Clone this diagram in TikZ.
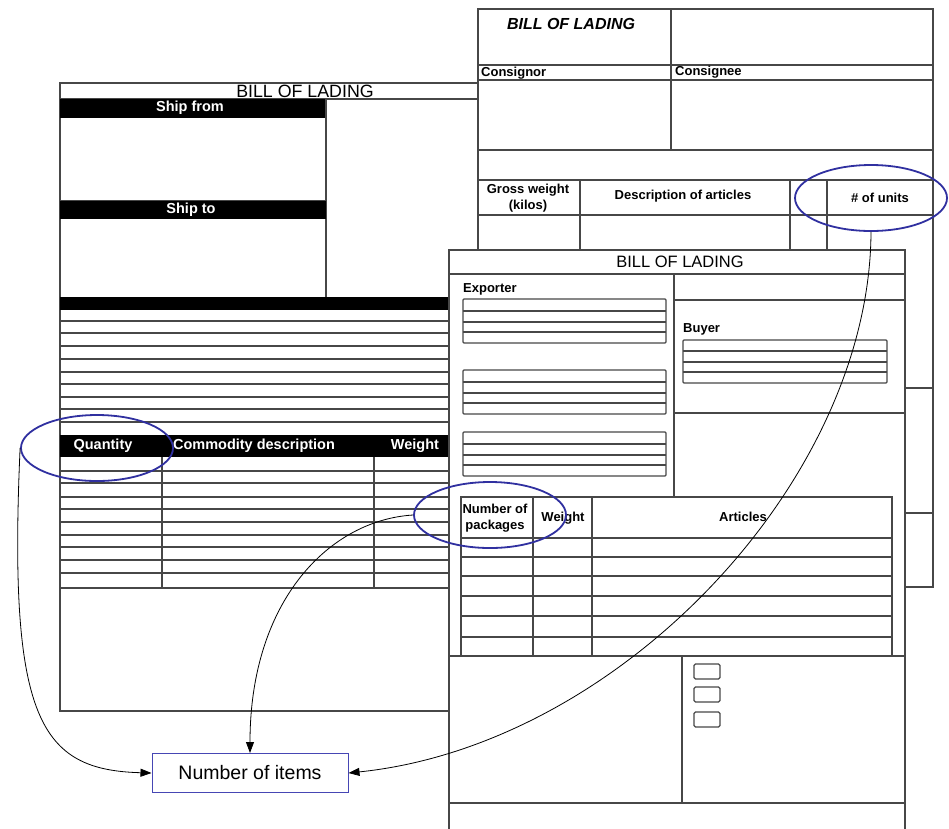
\documentclass[tikz,border=0pt]{standalone}
\usepackage{fontspec}
\setmainfont{Liberation Sans}
\usetikzlibrary{arrows.meta, positioning, shapes.geometric}
\definecolor{markblue}{RGB}{48,48,160}
\definecolor{boxblue}{RGB}{70,70,180}
\begin{document}
\begin{tikzpicture}[x=1pt, y=-1pt,
  formline/.style={draw=black!72, line width=1.15pt},
  formsheet/.style={formline, fill=white},
  barlabel/.style={text=white, font=\bfseries\fontsize{14.5}{16}\selectfont, inner sep=0pt},
  fieldlabel/.style={font=\bfseries\fontsize{13}{15.5}\selectfont, inner sep=0pt, align=center},
  formtitle/.style={font=\fontsize{16.5}{18}\selectfont, inner sep=0pt},
  callout/.style={ellipse, draw=markblue, line width=1.8pt, minimum width=152pt, minimum height=66pt},
  itembox/.style={draw=boxblue, line width=1pt, fill=white, minimum width=196pt, minimum height=39pt, font=\fontsize{19.5}{21}\selectfont},
  pointer/.style={-{Triangle[length=11pt, width=8pt]}, line width=0.8pt}]
\useasboundingbox (0,0) rectangle (949,828);

% back sheet
\draw[formsheet] (478,9) rectangle (933,587);
\foreach \y in {65,80,150,180,215,388,513}
  \draw[formline] (478,\y) -- (933,\y);
\draw[formline] (671,9) -- (671,150);
\foreach \x in {580,790,827}
  \draw[formline] (\x,180) -- (\x,260);
\node[font=\bfseries\itshape\fontsize{16}{18}\selectfont, inner sep=0pt] (bk-title) at (571,24) {BILL OF LADING};
\node[fieldlabel, anchor=west] (consignor) at (481,73) {Consignor};
\node[fieldlabel, anchor=west] (consignee) at (675,72) {Consignee};
\node[fieldlabel] (gross) at (528,198) {Gross weight\\(kilos)};
\node[fieldlabel] (descr) at (683,196) {Description of articles};
\node[fieldlabel] (units) at (880,198) {\# of units};

% left sheet
\draw[formsheet] (60,83) rectangle (478,711);
\draw[formline] (60,99) -- (478,99);
\node[formtitle, font=\fontsize{17.8}{19}\selectfont] (lt-title) at (305,91) {BILL OF LADING};
\fill (60,99) rectangle (326,118);
\node[barlabel] (ship-from) at (190,108) {Ship from};
\draw[formline] (326,99) -- (326,297);
\draw[formline] (60,201) -- (326,201);
\fill (60,201) rectangle (326,219);
\node[barlabel] (ship-to) at (191,210) {Ship to};
\fill (60,297) rectangle (478,310);
\foreach \y in {321,333,346,359,372,384,397,409,422}
  \draw[formline] (60,\y) -- (478,\y);
\fill (60,435) rectangle (478,457);
\node[barlabel] (quantity) at (103,446) {Quantity};
\node[barlabel] (commodity) at (254,446) {Commodity description};
\node[barlabel] (lt-weight) at (415,446) {Weight};
\foreach \y in {471,483,497,509,522,535,547,560,573,588}
  \draw[formline] (60,\y) -- (478,\y);
\foreach \x in {162,374}
  \draw[formline] (\x,457) -- (\x,588);

% front sheet
\draw[formsheet] (449,250) rectangle (905,840);
\draw[formline] (449,274) -- (905,274);
\node[formtitle] (ft-title) at (680,262) {BILL OF LADING};
\draw[formline] (674,274) -- (674,497);
\draw[formline] (674,300) -- (905,300);
\draw[formline] (674,413) -- (905,413);
\node[fieldlabel, anchor=west] (exporter) at (463,289) {Exporter};
\foreach \t in {299,370,432} {
  \draw[formline, rounded corners=1pt] (463,\t) rectangle (666,\t+44);
  \foreach \d in {12,23,33}
    \draw[formline] (463,\t+\d) -- (666,\t+\d);
}
\node[fieldlabel, anchor=west] (buyer) at (683,329) {Buyer};
\draw[formline, rounded corners=1pt] (683,340) rectangle (887,383);
\foreach \y in {351,362,372}
  \draw[formline] (683,\y) -- (887,\y);
\draw[formline] (461,497) rectangle (892,656);
\foreach \y in {538,557,576,596,616,637}
  \draw[formline] (461,\y) -- (892,\y);
\foreach \x in {533,592}
  \draw[formline] (\x,497) -- (\x,656);
\node[fieldlabel] (packages) at (495,518) {Number of\\packages};
\node[fieldlabel] (ft-weight) at (563,518) {Weight};
\node[fieldlabel] (articles) at (743,517) {Articles};
\draw[formline] (449,656) -- (905,656);
\draw[formline] (682,656) -- (682,803);
\draw[formline] (449,803) -- (905,803);
\foreach \t in {664,687,712}
  \draw[formline, rounded corners=1.5pt] (694,\t) rectangle (720,\t+15);

% callouts
\node[callout] (units-mark) at (871,198) {};
\node[callout] (qty-mark) at (97,448) {};
\node[callout] (pkg-mark) at (490,515) {};
\node[itembox] (items) at (250,773) {Number of items};

\draw[pointer] (qty-mark.west) .. controls (8,720) and (40,770) .. (items.west);
\draw[pointer] (pkg-mark.west) .. controls (330,520) and (250,600) .. (items.north);
\draw[pointer] (units-mark.south) .. controls (870,480) and (620,745) .. (items.east);
\end{tikzpicture}
\end{document}
